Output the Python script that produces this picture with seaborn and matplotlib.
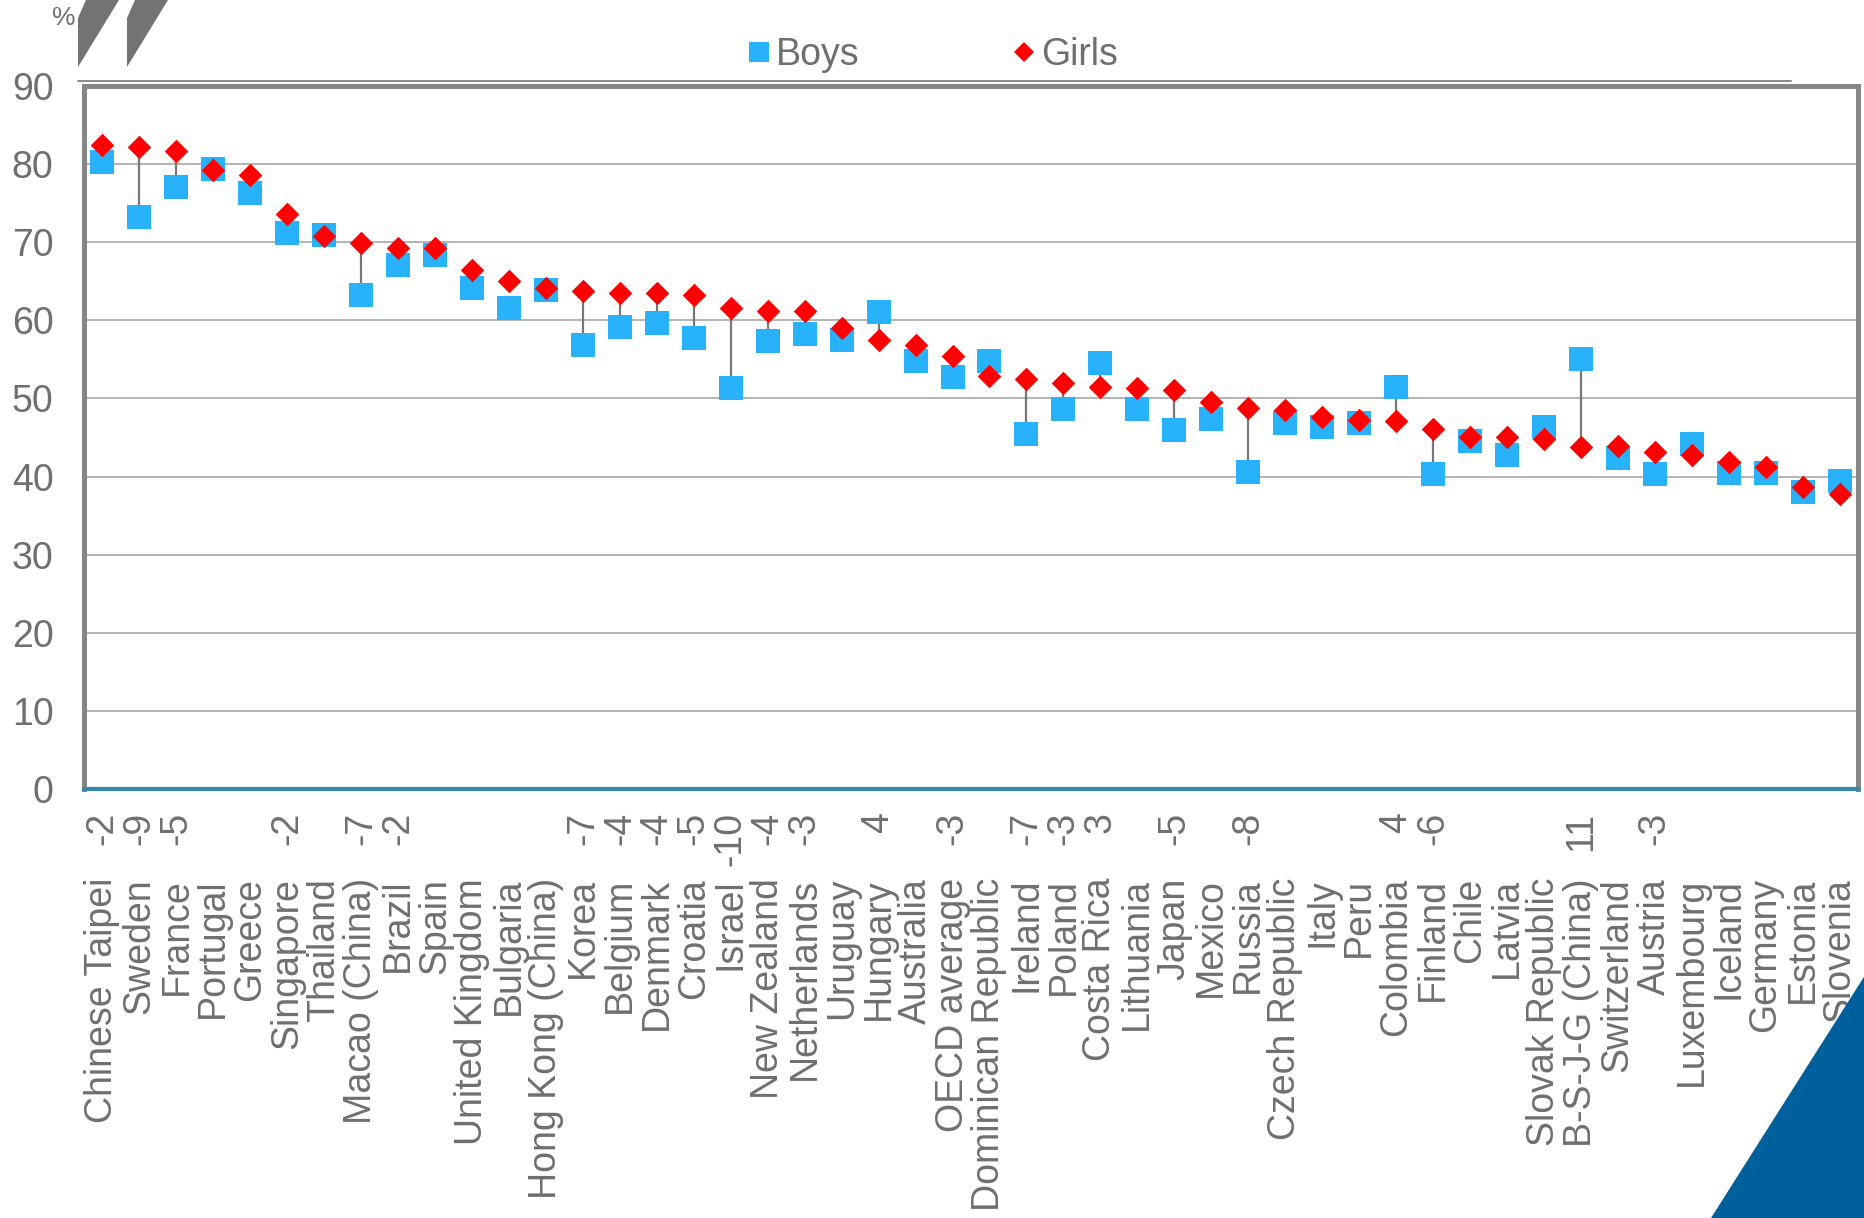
import matplotlib
matplotlib.use("Agg")
import matplotlib.pyplot as plt
from matplotlib.lines import Line2D
from matplotlib.patches import Polygon
import matplotlib.transforms as mtransforms
import numpy as np
import pandas as pd
import seaborn as sns

# Share of students (%) by country, boys vs girls
countries = [
    "Chinese Taipei", "Sweden", "France", "Portugal", "Greece", "Singapore",
    "Thailand", "Macao (China)", "Brazil", "Spain", "United Kingdom", "Bulgaria",
    "Hong Kong (China)", "Korea", "Belgium", "Denmark", "Croatia", "Israel",
    "New Zealand", "Netherlands", "Uruguay", "Hungary", "Australia",
    "OECD average", "Dominican Republic", "Ireland", "Poland", "Costa Rica",
    "Lithuania", "Japan", "Mexico", "Russia", "Czech Republic", "Italy", "Peru",
    "Colombia", "Finland", "Chile", "Latvia", "Slovak Republic",
    "B-S-J-G (China)", "Switzerland", "Austria", "Luxembourg", "Iceland",
    "Germany", "Estonia", "Slovenia",
]
boys = [
    80.3, 73.2, 77.1, 79.4, 76.3, 71.2, 70.9, 63.3, 67.1, 68.4, 64.2, 61.6,
    63.9, 56.8, 59.2, 59.7, 57.8, 51.4, 57.3, 58.3, 57.5, 61.1, 54.8, 52.8,
    54.8, 45.4, 48.7, 54.6, 48.7, 46.0, 47.4, 40.6, 46.9, 46.3, 46.9, 51.5,
    40.3, 44.5, 42.8, 46.3, 55.0, 42.4, 40.3, 44.2, 40.4, 40.4, 38.0, 39.4,
]
girls = [
    82.4, 82.2, 81.7, 79.2, 78.6, 73.6, 70.8, 69.9, 69.3, 69.2, 66.4, 65.0,
    64.1, 63.7, 63.5, 63.5, 63.2, 61.6, 61.2, 61.2, 59.0, 57.5, 56.9, 55.4,
    52.9, 52.5, 52.0, 51.5, 51.4, 51.1, 49.5, 48.8, 48.5, 47.6, 47.3, 47.1,
    46.1, 45.0, 45.0, 44.8, 43.8, 43.9, 43.2, 42.8, 41.8, 41.2, 38.6, 37.8,
]
# Statistically significant gaps (boys minus girls); None = not significant
gaps = [
    -2, -9, -5, None, None, -2, None, -7, -2, None, None, None,
    None, -7, -4, -4, -5, -10, -4, -3, None, 4, None, -3,
    None, -7, -3, 3, None, -5, None, -8, None, None, None, 4,
    -6, None, None, None, 11, None, -3, None, None, None, None, None,
]
y_ticks = [0, 10, 20, 30, 40, 50, 60, 70, 80, 90]

df = pd.DataFrame({"country": countries, "Boys": boys, "Girls": girls, "gap": gaps})

sns.set_theme(style="white")
plt.rcParams["font.family"] = ["Liberation Sans", "DejaVu Sans"]

TEXT = "#6f6f6f"
BOY_C = "#29b2fc"
GIRL_C = "#ff0000"
FS = 27

W, H = 1865, 1218
fig = plt.figure(figsize=(W / 100, H / 100), dpi=100)
ax = fig.add_axes([84 / W, 1 - 789 / H, (1858 - 84) / W, (789 - 86) / H])

sns.scatterplot(data=df, x="country", y="Boys", marker="s", s=16.8 ** 2,
                color=BOY_C, linewidth=0, ax=ax, zorder=3, label="Boys")
sns.scatterplot(data=df, x="country", y="Girls", marker="D", s=12.0 ** 2,
                color=GIRL_C, linewidth=0, ax=ax, zorder=4, label="Girls")

# Connectors for significant gaps
sig = df[df["gap"].notna()]
ax.vlines(sig["country"], sig["Boys"], sig["Girls"], color="#777777",
          linewidth=1.6, zorder=2)

ax.set_xlim(-0.5, len(countries) - 0.5)
ax.set_ylim(0, 90)
ax.set_yticks(y_ticks)
ax.set_yticklabels([str(v) for v in y_ticks], fontsize=FS, color=TEXT)
ax.tick_params(axis="y", length=0, pad=22)
ax.tick_params(axis="x", length=0, pad=64)
ax.set_xticks(range(len(countries)))
ax.set_xticklabels(countries, rotation=90, fontsize=FS, color=TEXT,
                   va="top", ha="center")
ax.set_xlabel("")
ax.set_ylabel("")

ax.yaxis.grid(True, color="#a8a8a8", linewidth=1.2)
ax.xaxis.grid(False)
ax.set_axisbelow(True)

for side in ["left", "right", "top"]:
    ax.spines[side].set_color("#868686")
    ax.spines[side].set_linewidth(3.6)
ax.spines["bottom"].set_color("#3585ad")
ax.spines["bottom"].set_linewidth(3.0)

# Gap values above the country names
trans = mtransforms.blended_transform_factory(ax.transData, ax.transAxes)
offset = mtransforms.ScaledTranslation(0, -23 / 100, fig.dpi_scale_trans)
for i, g in enumerate(gaps):
    if g is not None:
        ax.text(i, 0, f"{g}", transform=trans + offset, rotation=90,
                ha="center", va="top", fontsize=FS, color=TEXT)

# Legend along the top
handles = [
    Line2D([], [], marker="s", linestyle="none", markersize=14,
           markerfacecolor=BOY_C, markeredgewidth=0),
    Line2D([], [], marker="D", linestyle="none", markersize=10,
           markerfacecolor=GIRL_C, markeredgewidth=0),
]
ax.legend(handles, ["Boys", "Girls"], loc="center", ncol=2, frameon=False,
          bbox_to_anchor=(931 / W, 1 - 55 / H), bbox_transform=fig.transFigure,
          fontsize=FS, labelcolor=TEXT, handletextpad=0.05, columnspacing=4.0,
          handlelength=0.8)

# Thin rule above the plot frame
fig.add_artist(Line2D([78 / W, 1791 / W], [1 - 81 / H, 1 - 81 / H],
                      color="#808080", linewidth=1.3))

# Axis break marks and unit label
for x0 in (78, 127):
    pts = [(x0, 67), (x0, 18), (x0 + 8, 0), (x0 + 41, 0)]
    fig.add_artist(Polygon([(px / W, 1 - py / H) for px, py in pts],
                           closed=True, transform=fig.transFigure,
                           facecolor="#737373", edgecolor="none"))
fig.text(64 / W, 1 - 18 / H, "%", fontsize=19, color=TEXT,
         ha="center", va="center")

# Corner accent
fig.patches.append(Polygon([(1711 / W, 0), (1 + 0.001, 0), (1 + 0.001, 1 - 972 / H)],
                           closed=True, transform=fig.transFigure,
                           facecolor="#00609c", edgecolor="none", zorder=0))

fig.savefig("out.png", dpi=100)
